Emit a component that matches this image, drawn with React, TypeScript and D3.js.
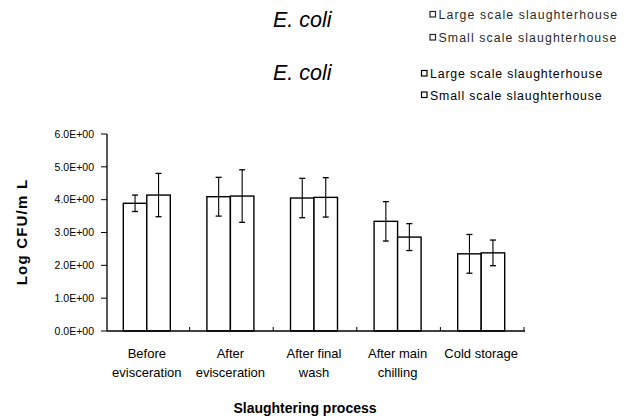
import React from "react";
import * as d3 from "d3";

const categories = [
  ["Before", "evisceration"],
  ["After", "evisceration"],
  ["After final", "wash"],
  ["After main", "chilling"],
  ["Cold storage", ""],
];
const largeMeans = [3.89, 4.09, 4.05, 3.34, 2.35];
const largeErr = [0.25, 0.59, 0.6, 0.6, 0.59];
const smallMeans = [4.14, 4.11, 4.07, 2.86, 2.38];
const smallErr = [0.66, 0.8, 0.6, 0.41, 0.39];
const yTicks = [0, 1, 2, 3, 4, 5, 6];
const seriesNames = ["Large scale slaughterhouse", "Small scale slaughterhouse"];

const font = "'Liberation Sans', Arial, sans-serif";

const Legend = ({ x, y, gap, spacing, opacity }) => (
  <g opacity={opacity}>
    {seriesNames.map((s, i) => (
      <g key={i}>
        <rect x={x} y={y + i * gap - 7.5} width={5.5} height={5.5} fill="white" stroke="black" strokeWidth={1.2} />
        <text x={x + 8.5} y={y + i * gap} fontSize={12.3} letterSpacing={spacing} fontFamily={font}>
          {s}
        </text>
      </g>
    ))}
  </g>
);

const App = () => {
  const ids = categories.map((c, i) => String(i));
  const x = d3.scaleBand().domain(ids).range([106, 524]).padding(0);
  const y = d3.scaleLinear().domain([0, 6]).range([331, 134]);
  const barW = 23.5;

  const bars = [
    { means: largeMeans, errs: largeErr, off: -barW },
    { means: smallMeans, errs: smallErr, off: 0 },
  ];

  return (
    <svg width={630} height={418} style={{ position: "absolute", left: 0, top: 0, background: "white" }}>
      <rect width={630} height={418} fill="white" />
      {/* titles */}
      <text x={273} y={27} fontSize={21.5} fontStyle="italic" fontFamily={font}>E. coli</text>
      <text x={273} y={80} fontSize={21.5} fontStyle="italic" fontFamily={font}>E. coli</text>
      <Legend x={430} y={19} gap={23} spacing={1.1} opacity={0.85} />
      <Legend x={421.5} y={78} gap={21.5} spacing={0.85} opacity={1} />

      {/* y axis */}
      <line x1={107} x2={107} y1={y(6)} y2={y(0)} stroke="black" strokeWidth={1.3} />
      {yTicks.map((t) => (
        <g key={t}>
          <line x1={101} x2={107} y1={y(t)} y2={y(t)} stroke="black" strokeWidth={1} />
          <text x={94} y={y(t) + 3.8} textAnchor="end" fontSize={10.5} fontFamily={font}>
            {t.toFixed(1) + "E+00"}
          </text>
        </g>
      ))}
      <text
        transform={`translate(27,${232}) rotate(-90)`}
        textAnchor="middle"
        fontSize={15}
        fontWeight="bold"
        letterSpacing={1.2}
        fontFamily={font}
      >
        Log CFU/m L
      </text>

      {/* bars */}
      {bars.map((b, si) =>
        ids.map((id, i) => {
          const cx = (x(id) as number) + x.bandwidth() / 2 - 1;
          const bx = cx + b.off;
          const mid = bx + barW / 2;
          const hi = y(b.means[i] + b.errs[i]);
          const lo = y(b.means[i] - b.errs[i]);
          return (
            <g key={si + "-" + i}>
              <rect x={bx} y={y(b.means[i])} width={barW} height={y(0) - y(b.means[i])} fill="white" stroke="black" strokeWidth={1.4} />
              <line x1={mid} x2={mid} y1={hi} y2={lo} stroke="black" strokeWidth={1.1} />
              <line x1={mid - 3} x2={mid + 3} y1={hi} y2={hi} stroke="black" strokeWidth={1.3} />
              <line x1={mid - 3} x2={mid + 3} y1={lo} y2={lo} stroke="black" strokeWidth={1.3} />
            </g>
          );
        })
      )}

      {/* x axis */}
      <line x1={107} x2={525} y1={y(0)} y2={y(0)} stroke="black" strokeWidth={1.4} />
      {ids.map((id, i) => (
        <line key={i} x1={(x(id) as number) + x.bandwidth()} x2={(x(id) as number) + x.bandwidth()} y1={y(0)} y2={y(0) - 4} stroke="black" strokeWidth={1} />
      ))}
      {ids.map((id, i) => {
        const cx = (x(id) as number) + x.bandwidth() / 2 - 1;
        return (
          <text key={i} textAnchor="middle" fontSize={13} fontFamily={font}>
            <tspan x={cx} y={358}>{categories[i][0]}</tspan>
            <tspan x={cx} y={377}>{categories[i][1]}</tspan>
          </text>
        );
      })}
      <text x={305} y={413} textAnchor="middle" fontSize={14} fontWeight="bold" fontFamily={font}>
        Slaughtering process
      </text>
    </svg>
  );
};

export default App;
